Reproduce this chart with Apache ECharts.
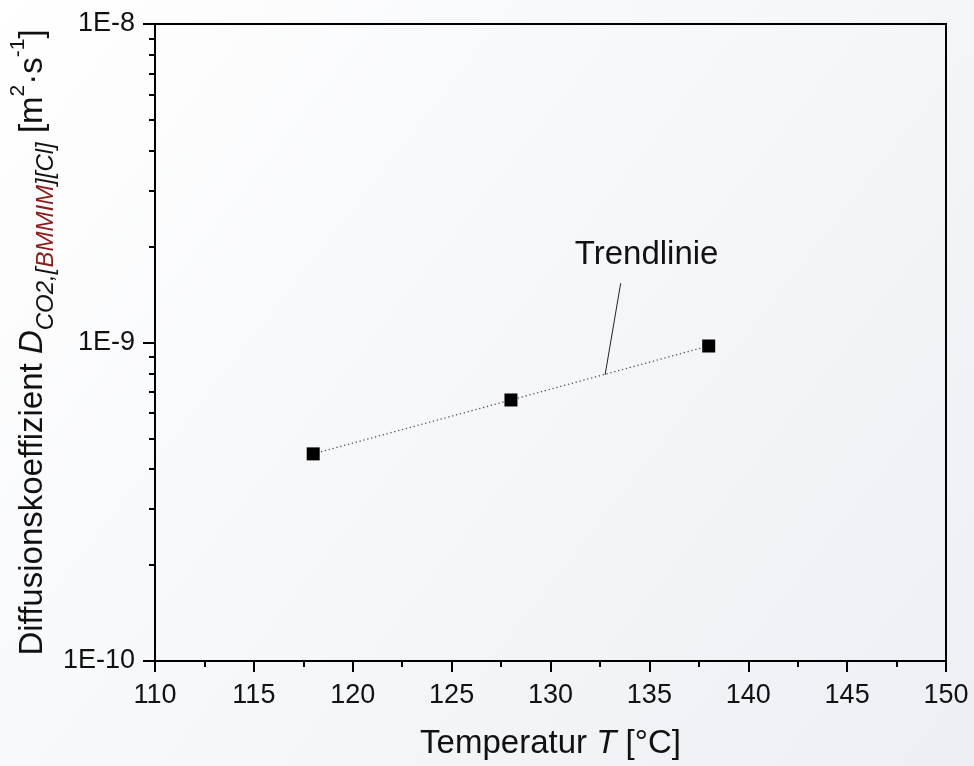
<!DOCTYPE html>
<html>
<head>
<meta charset="utf-8">
<script src="https://cdn.jsdelivr.net/npm/echarts@6/dist/echarts.min.js"></script>
<style>
html,body{margin:0;padding:0;}
#chart{width:974px;height:766px;}
</style>
</head>
<body>
<div id="chart"></div>
<script>
// ---- data ----
var temperatures = [118, 128, 138];
var diffusion = [4.47e-10, 6.60e-10, 9.75e-10];
var xTicks = [110, 115, 120, 125, 130, 135, 140, 145, 150];
var yMajorTicks = [1e-10, 1e-9, 1e-8];
var yMinorTicks = [2e-10,3e-10,4e-10,5e-10,6e-10,7e-10,8e-10,9e-10,2e-9,3e-9,4e-9,5e-9,6e-9,7e-9,8e-9,9e-9];
var annotationText = ['Trendlinie'];
var annotationTextPos = [134.86, 1.883e-9];
var annotationLeader = [[133.55, 1.535e-9], [132.76, 7.91e-10]];

var chart = echarts.init(document.getElementById('chart'));
var font = 'Liberation Sans, Arial, sans-serif';

function yLabel(v) {
  var e = Math.round(Math.log10(v));
  return '1E' + e;
}

var option = {
  backgroundColor: {
    type: 'linear', x: 0, y: 0, x2: 1, y2: 1,
    colorStops: [{offset: 0, color: '#ffffff'}, {offset: 1, color: '#eceff4'}]
  },
  animation: false,
  textStyle: {fontFamily: font},
  grid: {
    left: 155, right: 28, top: 24, bottom: 105,
    outerBoundsMode: 'none', containLabel: false,
    show: true, borderColor: '#000', borderWidth: 2, backgroundColor: 'transparent'
  },
  xAxis: {
    type: 'value', min: 110, max: 150, interval: 5,
    axisLine: {show: true, lineStyle: {color: '#000', width: 2}},
    axisTick: {show: true, inside: false, length: 11, lineStyle: {color: '#000', width: 2}},
    minorTick: {show: true, splitNumber: 2, length: 6, lineStyle: {color: '#000', width: 2}},
    splitLine: {show: false},
    axisLabel: {fontSize: 27, color: '#111', margin: 21, fontFamily: font,
      customValues: xTicks},
    name: 'Temperatur {i|T} [°C]',
    nameLocation: 'middle', nameGap: 66, nameMoveOverlap: false,
    nameTextStyle: {fontSize: 33, color: '#111', fontFamily: font,
      rich: {i: {fontSize: 33, fontStyle: 'italic', color: '#111', fontFamily: font}}}
  },
  yAxis: [{
    type: 'log', logBase: 10, min: 1e-10, max: 1e-8,
    axisLine: {show: true, lineStyle: {color: '#000', width: 2}},
    axisTick: {show: true, inside: false, length: 12, lineStyle: {color: '#000', width: 2},
      customValues: yMajorTicks},
    splitLine: {show: false},
    axisLabel: {fontSize: 27, color: '#111', margin: 20, fontFamily: font,
      customValues: yMajorTicks, formatter: yLabel},
    name: '{m|Diffusionskoeffizient }{d|D}{s|CO2,[}{r|BMMIM}{s|][Cl]}{m| [m}{p|2}{m|·s}{p|-1}{m|]}',
    nameLocation: 'middle', nameRotate: 90, nameGap: 97, nameMoveOverlap: false,
    nameTextStyle: {
      fontSize: 33, color: '#111', fontFamily: font,
      rich: {
        m: {fontSize: 33, color: '#111', fontFamily: font, lineHeight: 50, verticalAlign: 'middle'},
        d: {fontSize: 33, color: '#111', fontStyle: 'italic', fontFamily: font, lineHeight: 50, verticalAlign: 'middle'},
        s: {fontSize: 24, color: '#111', fontStyle: 'italic', fontFamily: font, lineHeight: 24, verticalAlign: 'bottom'},
        r: {fontSize: 24, color: '#8b1c1c', fontStyle: 'italic', fontFamily: font, lineHeight: 24, verticalAlign: 'bottom'},
        p: {fontSize: 21, color: '#111', fontFamily: font, lineHeight: 21, verticalAlign: 'top'}
      }
    }
  }, {
    type: 'log', logBase: 10, min: 1e-10, max: 1e-8, position: 'left',
    axisLine: {show: false},
    axisTick: {show: true, inside: false, length: 6, lineStyle: {color: '#000', width: 2},
      customValues: yMinorTicks},
    axisLabel: {show: false},
    splitLine: {show: false}
  }],
  series: [{
    type: 'line',
    data: temperatures.map(function (t, i) { return [t, diffusion[i]]; }),
    symbol: 'rect', symbolSize: 13,
    itemStyle: {color: '#000'},
    lineStyle: {color: '#555', width: 1.3, type: [1.3, 2.7]},
    z: 5
  }, {
    type: 'line',
    data: annotationLeader,
    symbol: 'none',
    lineStyle: {color: '#222', width: 1},
    silent: true
  }, {
    type: 'scatter',
    data: [annotationTextPos],
    symbolSize: 1,
    itemStyle: {opacity: 0},
    label: {show: true, position: 'inside', formatter: annotationText[0],
      fontSize: 33, color: '#111', opacity: 1, fontFamily: font},
    silent: true
  }]
};
chart.setOption(option);
</script>
</body>
</html>
